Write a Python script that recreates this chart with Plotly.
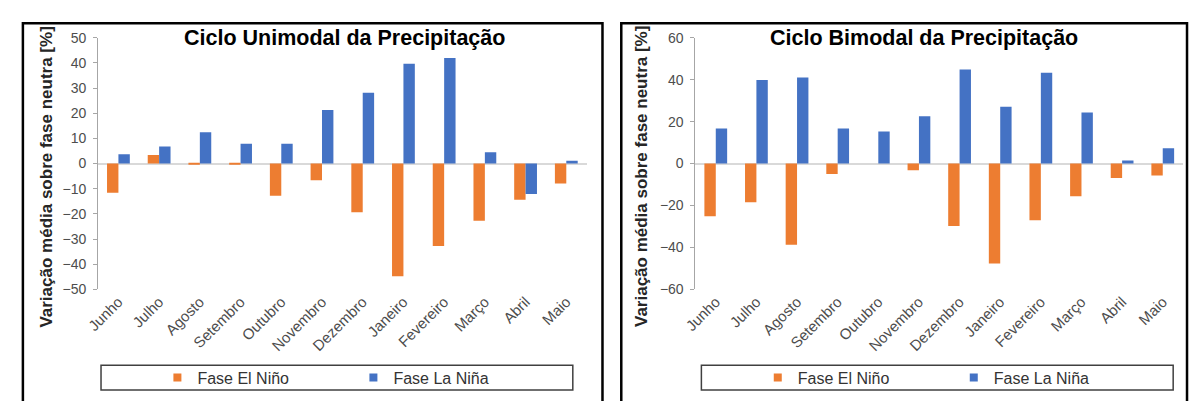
import plotly.graph_objects as go

W, H = 1189, 401

months = ["Junho", "Julho", "Agosto", "Setembro", "Outubro", "Novembro",
          "Dezembro", "Janeiro", "Fevereiro", "Março", "Abril", "Maio"]

uni_el_nino = [-11.6, 3.4, -0.4, -0.4, -12.8, -6.6, -19.4, -44.8, -32.8, -22.7, -14.4, -7.9]
uni_la_nina = [3.7, 6.8, 12.4, 7.9, 7.9, 21.3, 28.1, 39.7, 42.0, 4.5, -12.1, 1.1]

bi_el_nino = [-25.2, -18.5, -38.8, -5.0, 0.0, -3.2, -29.8, -47.7, -27.1, -15.6, -6.9, -5.7]
bi_la_nina = [16.7, 39.8, 41.0, 16.7, 15.3, 22.5, 44.9, 27.1, 43.3, 24.3, 1.4, 7.3]

uni_ticks = [50, 40, 30, 20, 10, 0, -10, -20, -30, -40, -50]
bi_ticks = [60, 40, 20, 0, -20, -40, -60]

titles = ["Ciclo Unimodal da Precipitação", "Ciclo Bimodal da Precipitação"]
ytitle = "Variação média sobre fase neutra [%]"
series_names = ["Fase El Niño", "Fase La Niña"]

ORANGE = "#ED7D31"
BLUE = "#4472C4"
FONT = "Liberation Sans, Arial, sans-serif"
TICKC = "#4D4D4D"


def px(x):
    return x / W


def py(y):
    return 1 - y / H


fig = go.Figure()

for axis_suffix, el, la in [("", uni_el_nino, uni_la_nina), ("2", bi_el_nino, bi_la_nina)]:
    fig.add_trace(go.Bar(x=months, y=el, name=series_names[0], marker_color=ORANGE,
                         marker_line_width=0, showlegend=False,
                         xaxis="x" + axis_suffix, yaxis="y" + axis_suffix))
    fig.add_trace(go.Bar(x=months, y=la, name=series_names[1], marker_color=BLUE,
                         marker_line_width=0, showlegend=False,
                         xaxis="x" + axis_suffix, yaxis="y" + axis_suffix))
    leg = "legend" + axis_suffix
    for nm, col in zip(series_names, [ORANGE, BLUE]):
        fig.add_trace(go.Scatter(x=[None], y=[None], mode="markers", name=nm,
                                 marker=dict(symbol="square", size=8, color=col),
                                 legend=leg, showlegend=True,
                                 xaxis="x" + axis_suffix, yaxis="y" + axis_suffix))

xcommon = dict(type="category", showline=False, ticks="", showgrid=False,
               tickangle=-45, tickfont=dict(family=FONT, size=15, color=TICKC),
               zeroline=False, fixedrange=True)
ycommon = dict(showline=True, linecolor="#A6A6A6", linewidth=1, ticks="outside",
               ticklen=4, tickcolor="#A6A6A6", showgrid=False,
               zeroline=True, zerolinecolor="#D9D9D9", zerolinewidth=2,
               tickfont=dict(family=FONT, size=14, color=TICKC), fixedrange=True,
               ticklabelstandoff=4)

ydom = [py(293), py(31)]
fig.update_layout(
    width=W, height=H,
    margin=dict(l=0, r=0, t=0, b=0),
    paper_bgcolor="white", plot_bgcolor="white",
    barmode="group", bargap=0.44, bargroupgap=0,
    xaxis=dict(domain=[px(86), px(580)], anchor="y", **xcommon),
    yaxis=dict(domain=ydom, anchor="x", range=[-50, 50], tickvals=uni_ticks, **ycommon),
    xaxis2=dict(domain=[px(690), px(1183)], anchor="y2", **xcommon),
    yaxis2=dict(domain=ydom, anchor="x2", range=[-60, 60], tickvals=bi_ticks, **ycommon),
    legend=dict(orientation="h", x=px(146), xanchor="left", y=py(385), yanchor="middle",
                bgcolor="rgba(0,0,0,0)", borderwidth=0, entrywidth=151,
                entrywidthmode="pixels",
                font=dict(family=FONT, size=16, color="#333333")),
    legend2=dict(orientation="h", x=px(753), xanchor="left", y=py(385), yanchor="middle",
                 bgcolor="rgba(0,0,0,0)", borderwidth=0, entrywidth=151,
                 entrywidthmode="pixels",
                 font=dict(family=FONT, size=16, color="#333333")),
    showlegend=True,
)

annotations = [
    dict(text="<b>" + titles[0] + "</b>", x=px(335), y=py(31), xref="paper", yref="paper",
         showarrow=False, font=dict(family=FONT, size=21.5, color="black"),
         xanchor="center", yanchor="middle"),
    dict(text="<b>" + titles[1] + "</b>", x=px(921), y=py(31), xref="paper", yref="paper",
         showarrow=False, font=dict(family=FONT, size=21.5, color="black"),
         xanchor="center", yanchor="middle"),
    dict(text="<b>" + ytitle + "</b>", x=px(34), y=py(176), xref="paper", yref="paper",
         showarrow=False, textangle=-90, font=dict(family=FONT, size=17, color="#262626"),
         xanchor="center", yanchor="middle"),
    dict(text="<b>" + ytitle + "</b>", x=px(636), y=py(176), xref="paper", yref="paper",
         showarrow=False, textangle=-90, font=dict(family=FONT, size=17, color="#262626"),
         xanchor="center", yanchor="middle"),
]

shapes = [
    # panel borders
    dict(type="rect", xref="paper", yref="paper", x0=px(10), x1=px(596), y0=py(420), y1=py(16),
         line=dict(color="black", width=2.5), fillcolor="rgba(0,0,0,0)", layer="above"),
    dict(type="rect", xref="paper", yref="paper", x0=px(615), x1=px(1187), y0=py(420), y1=py(16),
         line=dict(color="black", width=2.5), fillcolor="rgba(0,0,0,0)", layer="above"),
    # legend boxes
    dict(type="rect", xref="paper", yref="paper", x0=px(89), x1=px(566), y0=py(398), y1=py(372),
         line=dict(color="#404040", width=1.5), fillcolor="rgba(0,0,0,0)", layer="below"),
    dict(type="rect", xref="paper", yref="paper", x0=px(696), x1=px(1173), y0=py(398), y1=py(372),
         line=dict(color="#404040", width=1.5), fillcolor="rgba(0,0,0,0)", layer="below"),
]

fig.update_layout(annotations=annotations, shapes=shapes)

fig.write_html("out.html")
